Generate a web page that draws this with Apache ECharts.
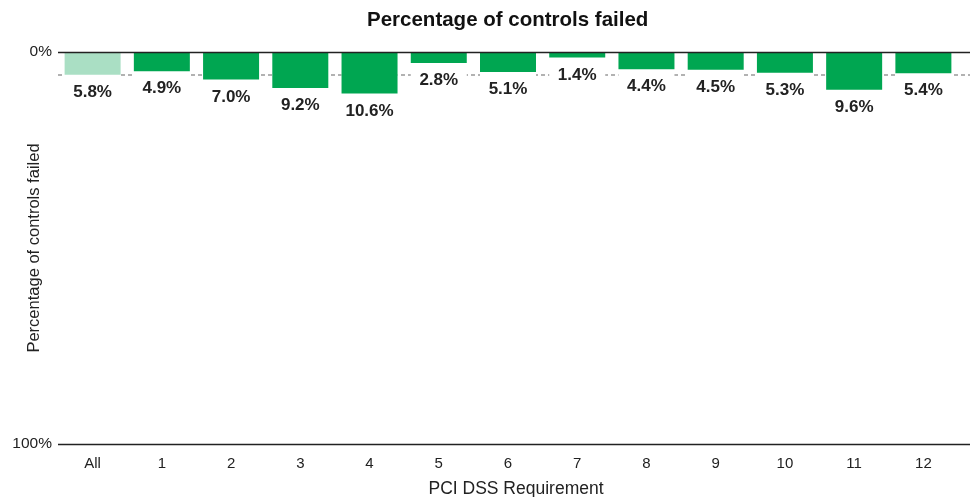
<!DOCTYPE html>
<html>
<head>
<meta charset="utf-8">
<script src="https://cdn.jsdelivr.net/npm/echarts@6/dist/echarts.min.js"></script>
<style>
  html, body { margin: 0; padding: 0; background: #fff; }
  #chart { width: 977px; height: 497px; }
</style>
</head>
<body>
<div id="chart"></div>
<script>
const categories = ['All', '1', '2', '3', '4', '5', '6', '7', '8', '9', '10', '11', '12']
const failedPct = [5.8, 4.9, 7.0, 9.2, 10.6, 2.8, 5.1, 1.4, 4.4, 4.5, 5.3, 9.6, 5.4]
const yTicks = [0, 100]

const FONT = '"Liberation Sans", Arial, sans-serif'
const GREEN = '#00a651'
const LIGHT_GREEN = '#aadfc4'

const chart = echarts.init(document.getElementById('chart'))

chart.setOption({
    animation: false,
    textStyle: { fontFamily: FONT },
    title: {
        text: 'Percentage of controls failed',
        left: 362,
        top: 5,
        textStyle: { fontSize: 20.5, fontWeight: 'bold', color: '#111', fontFamily: FONT }
    },
    grid: [
        { left: 58, right: 19, top: 52, bottom: 53, outerBoundsMode: 'none', containLabel: false },
        { left: 58, right: 7, top: 52, bottom: 53, outerBoundsMode: 'none', containLabel: false }
    ],
    xAxis: [
        {
            type: 'category',
            gridIndex: 0,
            data: categories,
            axisLine: { show: false },
            axisTick: { show: false },
            axisLabel: { fontSize: 15, color: '#222', margin: 12 },
            name: 'PCI DSS Requirement',
            nameLocation: 'middle',
            nameGap: 36,
            nameMoveOverlap: false,
            nameTextStyle: { fontSize: 17.5, color: '#222', padding: [0, 0, 0, 16] }
        },
        { type: 'value', gridIndex: 1, min: 0, max: 1, show: false }
    ],
    yAxis: [
        { type: 'value', gridIndex: 0, inverse: true, min: 0, max: 100, show: false },
        {
            type: 'value',
            gridIndex: 1,
            inverse: true,
            min: yTicks[0],
            max: yTicks[1],
            interval: 100,
            z: 3,
            axisLine: { show: false },
            axisTick: { show: false },
            axisLabel: { fontSize: 15.5, color: '#222', margin: 6, formatter: '{value}%' },
            splitLine: { show: true, lineStyle: { color: '#222', width: 1.3 } },
            name: 'Percentage of controls failed',
            nameLocation: 'middle',
            nameGap: 15,
            nameRotate: 90,
            nameMoveOverlap: false,
            nameTextStyle: { fontSize: 16.5, color: '#222' }
        }
    ],
    series: [
        {
            type: 'line',
            xAxisIndex: 1,
            yAxisIndex: 1,
            data: [],
            markLine: {
                z: 1,
                silent: true,
                symbol: 'none',
                label: { show: false },
                lineStyle: { color: '#999', type: [4, 3], width: 1.5 },
                data: [{ yAxis: failedPct[0] }]
            }
        },
        {
            type: 'bar',
            xAxisIndex: 0,
            yAxisIndex: 0,
            z: 2,
            barWidth: 56,
            showBackground: true,
            backgroundStyle: { color: '#fff' },
            data: failedPct.map((v, i) => ({
                value: v,
                itemStyle: { color: i === 0 ? LIGHT_GREEN : GREEN }
            })),
            label: {
                show: true,
                position: 'bottom',
                distance: 9,
                fontSize: 17,
                fontWeight: 'bold',
                color: '#222',
                formatter: p => p.value.toFixed(1) + '%'
            }
        }
    ]
})
</script>
</body>
</html>
